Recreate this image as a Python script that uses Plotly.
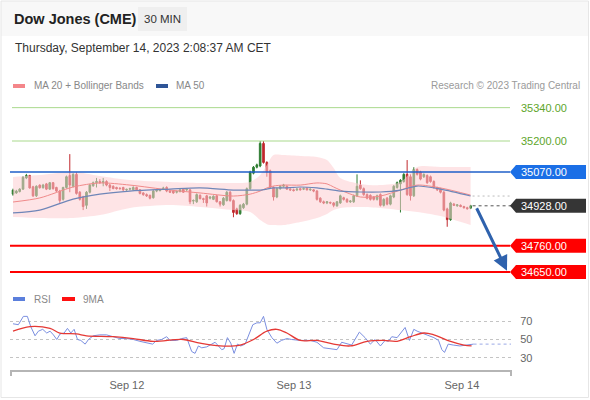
import plotly.graph_objects as go

W, H = 590, 400

# ---------------- data ----------------
opens = [34977, 34982, 34988, 34998, 35045, 35055, 35008, 34970, 35015, 35004,
         35020, 34998, 35025, 35005, 34990, 34955, 35005, 35055, 35010, 35060,
         34985, 34965, 34930, 34985, 35012, 35025, 35030, 35025, 35030, 35015,
         35010, 35005, 35002, 35005, 34995, 34998, 34995, 35005, 34995, 34982,
         34975, 34972, 34962, 34990, 34992, 35000, 35005, 34990, 34990, 34985,
         34988, 34998, 34995, 34995, 34948, 34945, 34972, 34958, 34970, 34960,
         34955, 34970, 34945, 34932, 34950, 34985, 34950, 34915, 34895, 34920,
         34935, 35000, 35065, 35090, 35095, 35190, 35110, 35075, 35005, 34965,
         35000, 35010, 35010, 34998, 34995, 34995, 35000, 34998, 35002, 34995,
         34995, 34990, 34960, 34945, 34940, 34942, 34940, 34928, 34940, 34962,
         34955, 34945, 34945, 34970, 35015, 35000, 34975, 34972, 34965, 34955,
         34975, 34930, 34960, 34935, 34965, 35005, 35020, 35030, 35060, 35050,
         34970, 35080, 35070, 35050, 35055, 35050, 35030, 35005, 35000, 34985,
         34915, 34870, 34935, 34928, 34930, 34925, 34920, 34918]
highs = [35000, 34995, 35002, 35052, 35062, 35058, 35012, 35014, 35018, 35020,
         35024, 35028, 35028, 35008, 34995, 35008, 35055, 35145, 35065, 35068,
         34990, 34970, 34990, 35020, 35030, 35045, 35040, 35045, 35035, 35020,
         35014, 35008, 35006, 35008, 35000, 35004, 35010, 35008, 34998, 34985,
         34980, 34975, 34995, 34996, 34998, 35008, 35010, 34995, 34994, 34992,
         34998, 35002, 35000, 34998, 34955, 34980, 34976, 34962, 34974, 34968,
         34972, 34974, 34948, 34965, 34990, 34990, 34955, 34920, 34935, 34940,
         35005, 35075, 35095, 35105, 35200, 35200, 35115, 35080, 35010, 35005,
         35015, 35020, 35014, 35002, 35000, 35002, 35004, 35005, 35006, 35000,
         34998, 34994, 34964, 34950, 34948, 34946, 34944, 34948, 34975, 34966,
         34960, 34952, 34975, 35060, 35035, 35005, 34980, 34976, 34968, 34975,
         34980, 34960, 34965, 34975, 35015, 35030, 35040, 35065, 35120, 35060,
         35090, 35085, 35075, 35064, 35060, 35055, 35035, 35008, 35004, 34990,
         34920, 34945, 34940, 34935, 34934, 34928, 34924, 34932]
lows = [34970, 34978, 34984, 34995, 35040, 35000, 34965, 34965, 35000, 35000,
        34994, 34995, 34996, 34985, 34940, 34950, 35000, 34985, 35005, 34975,
        34950, 34910, 34915, 34980, 35008, 35005, 35020, 35010, 35010, 34990,
        34998, 34996, 34996, 34990, 34990, 34992, 34992, 34992, 34976, 34970,
        34965, 34955, 34958, 34985, 34988, 34996, 34985, 34982, 34978, 34980,
        34984, 34982, 34990, 34935, 34935, 34940, 34955, 34940, 34925, 34955,
        34952, 34942, 34925, 34928, 34946, 34945, 34880, 34890, 34890, 34915,
        34930, 34995, 35060, 35085, 35090, 35105, 35050, 35000, 34950, 34960,
        34995, 35005, 34995, 34990, 34988, 34990, 34992, 34994, 34992, 34990,
        34985, 34950, 34940, 34935, 34935, 34935, 34922, 34924, 34936, 34950,
        34940, 34940, 34940, 34965, 34995, 34970, 34955, 34950, 34950, 34950,
        34925, 34925, 34930, 34930, 34960, 35000, 34900, 35025, 34970, 34950,
        34965, 35055, 35035, 35045, 35020, 35025, 35000, 34990, 34980, 34905,
        34840, 34865, 34928, 34924, 34922, 34916, 34912, 34914]
closes = [34994, 34990, 34998, 35048, 35055, 35003, 34970, 35010, 35004, 35015,
          34998, 35025, 35000, 34990, 34950, 35005, 35050, 35015, 35060, 34980,
          34955, 34925, 34985, 35015, 35025, 35030, 35025, 35030, 35015, 35005,
          35000, 35000, 35000, 34995, 34997, 35000, 35005, 34995, 34980, 34975,
          34970, 34960, 34990, 34992, 34995, 35002, 34990, 34985, 34982, 34988,
          34995, 34985, 34998, 34945, 34950, 34975, 34958, 34955, 34940, 34965,
          34968, 34945, 34935, 34960, 34985, 34950, 34900, 34895, 34930, 34935,
          35000, 35070, 35090, 35100, 35190, 35110, 35070, 35005, 34965, 35000,
          35010, 35015, 34998, 34995, 34992, 34998, 34995, 35000, 34995, 34998,
          34990, 34955, 34945, 34940, 34945, 34940, 34930, 34945, 34970, 34955,
          34945, 34948, 34970, 35010, 35000, 34975, 34960, 34955, 34955, 34970,
          34930, 34955, 34935, 34970, 35010, 35025, 35035, 35060, 34975, 34970,
          35080, 35060, 35040, 35060, 35025, 35030, 35005, 34995, 34985, 34910,
          34870, 34940, 34930, 34932, 34925, 34920, 34916, 34928]
candle_idx = list(range(len(opens)))

band_idx = [0, 8, 18, 26, 35, 47, 56, 66, 71, 74, 76, 78, 81, 86, 91, 94, 96, 98,
            104, 110, 116, 121, 128, 137]
bb_upper = [35049, 35057, 35070, 35053, 35036, 35028, 35024, 35024, 35028, 35057,
            35099, 35141, 35141, 35137, 35133, 35120, 35087, 35045, 35020, 35015,
            35028, 35091, 35091, 35091]
bb_lower = [34881, 34877, 34877, 34889, 34919, 34931, 34923, 34910, 34902, 34868,
            34851, 34847, 34847, 34860, 34877, 34894, 34910, 34919, 34923, 34919,
            34910, 34902, 34885, 34847]
ma20 = [34944, 34961, 35007, 35024, 35015, 34994, 34982, 34969, 34977, 34990,
        35003, 35011, 35015, 35015, 35024, 35020, 35007, 34994, 34965, 34969,
        34994, 35015, 35003, 34973]
ma50 = [34898, 34910, 34956, 34977, 34990, 34998, 35003, 34994, 34994, 34994,
        34998, 35003, 35003, 35007, 35003, 34998, 34994, 34990, 34986, 34986,
        34994, 35011, 34998, 34969]

rsi_idx = [0, 1.6, 3.1, 4.3, 5.3, 6.6, 7.6, 8.9, 10.1, 11.1,
           12.1, 13.1, 14.1, 15.3, 16.3, 17.3, 18.3, 19.3, 20.3, 21.6,
           22.6, 24, 26, 28, 30, 32, 34, 36, 38, 40,
           41.8, 43, 44.5, 46, 47, 49, 50.5, 52, 53.5, 54.5,
           55.5, 56.5, 58, 59.5, 60.5, 61.5, 62.5, 63.2, 64.2, 65.2,
           66.2, 67.2, 68.2, 69.5, 70.5, 71.8, 73, 74, 75, 76,
           77.5, 79, 80.4, 82, 83.4, 85, 86, 89, 91, 93,
           95, 97, 98.4, 100, 101.4, 103.7, 105.4, 107, 108.4, 110,
           111.4, 112.4, 113.4, 115, 116, 117.4, 118.7, 120, 121, 122.4,
           124, 126, 127.4, 128.4, 129.2, 130.3, 131.8, 133.8, 135.8, 137.9]
rsi_val = [67, 66, 75, 75, 64, 54, 59, 61, 57, 59,
           55, 50, 56, 57, 62, 57, 61, 50, 49, 45,
           50, 54, 55, 55, 53, 51, 51, 50, 48, 46,
           45, 49, 50, 53, 49, 49, 51, 52, 37, 35,
           43, 41, 42, 45, 47, 43, 39, 40, 52, 46,
           35, 45, 43, 45, 54, 66, 68, 68, 75, 61,
           52, 46, 49, 51, 50, 49, 49, 49, 47, 41,
           40, 39, 47, 45, 44, 58, 52, 45, 50, 43,
           49, 48, 53, 52, 57, 63, 49, 61, 59, 57,
           55, 52, 49, 39, 36, 45, 44, 43, 44, 45]
rsi_ma_idx = [0, 5.1, 11.1, 14, 19, 22, 30, 36, 42, 51, 56, 62, 68, 72, 76, 79, 82,
              86, 91, 96, 101, 106, 111, 115, 119, 123, 126, 131, 135, 137.3]
rsi_ma_val = [59, 64, 62, 57, 56, 54, 53, 51, 48, 50, 46, 43, 44, 50, 59, 61, 57,
              49, 49, 45, 43, 48, 49, 48, 53, 57, 55, 48, 44, 43]

levels_green = [35340, 35200]
level_blue = 35070
levels_red = [34760, 34650]
rsi_levels = [70, 50, 30]
date_ticks = [34.1, 84.1, 134.4]
date_labels = ["Sep 12", "Sep 13", "Sep 14"]
arrow_from = (138.6, 34924)
arrow_to = (147.9, 34655)

x_range = [-0.9, 149.1]
y_range = [34583, 35401.5]
rsi_range = [17, 87.3]

# ---------------- helpers for layout (pixel -> paper) ----------------
def px(x):
    return x / W


def py(y):
    return 1 - y / H


FONT = "Liberation Sans, Arial, sans-serif"

fig = go.Figure()

# Bollinger band
fig.add_trace(go.Scatter(x=band_idx, y=bb_upper, mode="lines",
                         line=dict(width=0, shape="spline", smoothing=0.8),
                         hoverinfo="skip", xaxis="x", yaxis="y"))
fig.add_trace(go.Scatter(x=band_idx, y=bb_lower, mode="lines",
                         line=dict(width=0, shape="spline", smoothing=0.8),
                         fill="tonexty", fillcolor="rgba(253,205,210,0.55)",
                         hoverinfo="skip", xaxis="x", yaxis="y"))
fig.add_trace(go.Scatter(x=band_idx, y=ma20, mode="lines",
                         line=dict(width=1, color="#f08a8a", shape="spline", smoothing=0.8),
                         hoverinfo="skip", xaxis="x", yaxis="y"))
fig.add_trace(go.Scatter(x=band_idx, y=ma50, mode="lines",
                         line=dict(width=1.2, color="#6f86b8", shape="spline", smoothing=0.8),
                         hoverinfo="skip", xaxis="x", yaxis="y"))

# candles
fig.add_trace(go.Candlestick(
    x=candle_idx, open=opens, high=highs, low=lows, close=closes,
    increasing=dict(line=dict(color="#2f7d32", width=1), fillcolor="#2f7d32"),
    decreasing=dict(line=dict(color="#c0282d", width=1), fillcolor="#c0282d"),
    whiskerwidth=0, hoverinfo="skip", xaxis="x", yaxis="y"))

# RSI
fig.add_trace(go.Scatter(x=rsi_idx, y=rsi_val, mode="lines",
                         line=dict(width=1, color="#7b8fe0"),
                         hoverinfo="skip", xaxis="x2", yaxis="y2"))
fig.add_trace(go.Scatter(x=rsi_ma_idx, y=rsi_ma_val, mode="lines",
                         line=dict(width=1.3, color="#e53935", shape="spline", smoothing=1),
                         hoverinfo="skip", xaxis="x2", yaxis="y2"))

shapes = []
annotations = []

# outer border and header band
shapes.append(dict(type="rect", xref="paper", yref="paper", x0=px(1), x1=px(588),
                   y0=py(1), y1=py(36), fillcolor="#f8f8f8", line=dict(width=0), layer="below"))
shapes.append(dict(type="rect", xref="paper", yref="paper", x0=px(138), x1=px(187),
                   y0=py(7), y1=py(31), fillcolor="#efefef", line=dict(width=0), layer="below"))
shapes.append(dict(type="rect", xref="paper", yref="paper", x0=px(1), x1=px(588.5),
                   y0=py(1), y1=py(397.5), line=dict(color="#e6e6e6", width=1)))

# header texts
annotations.append(dict(text="<b>Dow Jones (CME)</b>", x=px(12), y=py(19), xref="paper", yref="paper",
                        xanchor="left", yanchor="middle", showarrow=False,
                        font=dict(size=14.5, color="#222", family=FONT)))
annotations.append(dict(text="30 MIN", x=px(162.5), y=py(19), xref="paper", yref="paper",
                        xanchor="center", yanchor="middle", showarrow=False,
                        font=dict(size=11.5, color="#333", family=FONT)))
annotations.append(dict(text="Thursday, September 14, 2023 2:08:37 AM CET", x=px(13), y=py(48),
                        xref="paper", yref="paper", xanchor="left", yanchor="middle", showarrow=False,
                        font=dict(size=12, color="#333", family=FONT)))

# legends
def swatch(x0, x1, y, color):
    shapes.append(dict(type="rect", xref="paper", yref="paper", x0=px(x0), x1=px(x1),
                       y0=py(y - 2), y1=py(y + 2), fillcolor=color, line=dict(width=0)))


def label(text, x, y, color="#888", size=10, anchor="left"):
    annotations.append(dict(text=text, x=px(x), y=py(y), xref="paper", yref="paper",
                            xanchor=anchor, yanchor="middle", showarrow=False,
                            font=dict(size=size, color=color, family=FONT)))


swatch(13, 25, 86, "#f4868a")
label("MA 20 + Bollinger Bands", 32, 86)
swatch(156, 168, 86, "#2f5597")
label("MA 50", 174, 86)
label("Research © 2023 Trading Central", 582, 86, color="#9a9a9a", anchor="right")
swatch(13, 25, 299, "#5b7fdc")
label("RSI", 32, 299)
swatch(62, 75, 299, "#ff1010")
label("9MA", 81, 299)

# level lines
for lv in levels_green:
    shapes.append(dict(type="line", xref="paper", yref="y", x0=px(12), x1=px(510), y0=lv, y1=lv,
                       line=dict(color="#a9d98c", width=1)))
    annotations.append(dict(text=f"{lv:.2f}", x=px(519), y=lv, xref="paper", yref="y",
                            xanchor="left", yanchor="middle", showarrow=False,
                            font=dict(size=11, color="#5ea52a", family=FONT)))

shapes.append(dict(type="line", xref="paper", yref="y", x0=px(10), x1=px(510),
                   y0=level_blue, y1=level_blue, line=dict(color="#1f5fc8", width=1.5)))
for lv in levels_red:
    shapes.append(dict(type="line", xref="paper", yref="y", x0=px(10), x1=px(510), y0=lv, y1=lv,
                       line=dict(color="#ff0000", width=2)))

# last price and MA end guides
shapes.append(dict(type="line", xref="x", yref="y", x0=candle_idx[-1] + 0.6, x1=x_range[1],
                   y0=closes[-1], y1=closes[-1], line=dict(color="#555", width=1, dash="3px,3px")))
shapes.append(dict(type="line", xref="x", yref="y", x0=band_idx[-1] + 0.6, x1=x_range[1],
                   y0=ma50[-1], y1=ma50[-1], line=dict(color="#bbbbbb", width=1, dash="2px,3px")))
shapes.append(dict(type="line", xref="x2", yref="y2", x0=rsi_idx[-1], x1=x_range[1],
                   y0=rsi_val[-1], y1=rsi_val[-1], line=dict(color="#9aa8e6", width=1, dash="3px,3px")))

# label boxes (arrow-shaped)
box_path = "M0,0 L6,7 L76,7 L76,-7 L6,-7 Z"
for lv, col in [(level_blue, "#1b6fe6"), (closes[-1], "#353535"),
                (levels_red[0], "#ff0000"), (levels_red[1], "#ff0000")]:
    shapes.append(dict(type="path", xref="paper", yref="y", xsizemode="pixel", ysizemode="pixel",
                       xanchor=px(510), yanchor=lv, path=box_path, fillcolor=col,
                       line=dict(width=0)))
    annotations.append(dict(text=f"{lv:.2f}", x=px(519), y=lv, xref="paper", yref="y",
                            xanchor="left", yanchor="middle", showarrow=False,
                            font=dict(size=11, color="white", family=FONT)))

# axis end ticks
for xx in (11, 511):
    shapes.append(dict(type="line", xref="paper", yref="paper", x0=px(xx), x1=px(xx),
                       y0=py(370), y1=py(376), line=dict(color="#b5b5b5", width=2)))

# forecast arrow
annotations.append(dict(x=arrow_to[0], y=arrow_to[1], ax=arrow_from[0], ay=arrow_from[1],
                        xref="x", yref="y", axref="x", ayref="y", text="", showarrow=True,
                        arrowhead=2, arrowsize=1, arrowwidth=3, arrowcolor="#2f62ad"))

fig.update_layout(
    width=W, height=H, margin=dict(l=0, r=0, t=0, b=0),
    paper_bgcolor="white", plot_bgcolor="white", showlegend=False,
    font=dict(family=FONT),
    xaxis=dict(domain=[px(10), px(511)], range=x_range, anchor="y", showticklabels=False,
               showgrid=False, zeroline=False, showline=False, ticks="",
               rangeslider=dict(visible=False)),
    yaxis=dict(domain=[py(288), py(93)], range=y_range, anchor="x", visible=False,
               showgrid=False, zeroline=False),
    xaxis2=dict(domain=[px(10), px(511)], range=x_range, anchor="y2",
                tickvals=date_ticks, ticktext=date_labels, showline=True,
                linecolor="#b5b5b5", linewidth=2, ticks="outside", ticklen=4,
                tickcolor="rgba(0,0,0,0)", tickfont=dict(size=11, color="#666", family=FONT),
                showgrid=False, zeroline=False),
    yaxis2=dict(domain=[py(370), py(305)], range=rsi_range, anchor="x2", side="right",
                tickvals=rsi_levels, showgrid=True, gridcolor="#c4c4c4", griddash="dot",
                ticks="outside", ticklen=6, tickcolor="rgba(0,0,0,0)",
                tickfont=dict(size=11, color="#666", family=FONT),
                zeroline=False, showline=False),
    shapes=shapes, annotations=annotations,
)

fig.write_html("out.html", config={"displayModeBar": False},
               post_script="document.body.style.margin='0';document.body.style.overflow='hidden';")
